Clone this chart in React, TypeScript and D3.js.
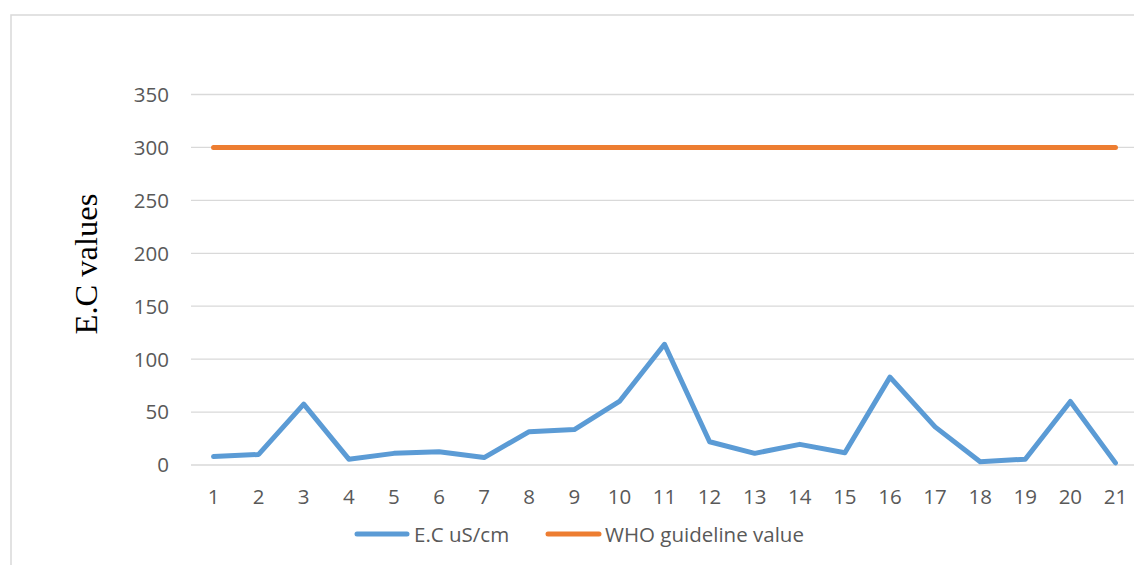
import React from 'react';
import * as d3 from 'd3';

// sample sites 1..21
const sites = ['1', '2', '3', '4', '5', '6', '7', '8', '9', '10', '11', '12', '13', '14', '15', '16', '17', '18', '19', '20', '21'];
const ecValues = [8, 10, 57.5, 5.5, 11, 12.5, 7, 31.5, 33.5, 60, 114, 22, 11, 19.5, 11.5, 83, 36, 3, 5.5, 60, 2];
const whoValues = [300, 300, 300, 300, 300, 300, 300, 300, 300, 300, 300, 300, 300, 300, 300, 300, 300, 300, 300, 300, 300];
const yTicks = [0, 50, 100, 150, 200, 250, 300, 350];

const W = 1134;
const H = 565;
const FONT = '"Open Sans", sans-serif';
const FS = 20.5;
const BLUE = '#5b9bd5';
const ORANGE = '#ed7d31';

export default function App() {
  const x = d3.scaleBand<string>().domain(sites).range([191, 1138]);
  const y = d3.scaleLinear().domain([0, 350]).range([465, 94.5]);
  const cx = (s: string) => (x(s) ?? 0) + x.bandwidth() / 2;

  const line = d3
    .line<number>()
    .x((_, i) => cx(sites[i]))
    .y((d) => y(d));

  return (
    <div style={{ position: 'absolute', left: 0, top: 0 }}>
      <svg width={W} height={H} style={{ display: 'block', background: '#fff' }}>
        {/* chart frame, cut off on right and bottom */}
        <rect x={11} y={15} width={1200} height={600} fill="none" stroke="#d9d9d9" strokeWidth={1.5} />

        {yTicks.map((t) => (
          <g key={t}>
            <line x1={191} x2={1138} y1={y(t)} y2={y(t)} stroke="#d9d9d9" strokeWidth={1.3} />
            <text x={169} y={y(t)} dy="0.36em" textAnchor="end" fontFamily={FONT} fontSize={FS} fill="#595959">
              {t}
            </text>
          </g>
        ))}

        {sites.map((s) => (
          <text key={s} x={cx(s)} y={504} textAnchor="middle" fontFamily={FONT} fontSize={FS} fill="#595959">
            {s}
          </text>
        ))}

        <text
          transform="translate(97,264) rotate(-90)"
          textAnchor="middle"
          fontFamily='"Liberation Serif", "Times New Roman", serif'
          fontSize={32.5}
          fill="#000"
        >
          E.C values
        </text>

        <path d={line(whoValues) || ''} fill="none" stroke={ORANGE} strokeWidth={5} strokeLinejoin="round" strokeLinecap="round" />
        <path d={line(ecValues) || ''} fill="none" stroke={BLUE} strokeWidth={5} strokeLinejoin="round" strokeLinecap="round" />

        {/* legend */}
        <line x1={357} x2={407} y1={534} y2={534} stroke={BLUE} strokeWidth={5} strokeLinecap="round" />
        <text x={414} y={541.5} fontFamily={FONT} fontSize={FS} fill="#595959">
          E.C uS/cm
        </text>
        <line x1={548} x2={599} y1={534} y2={534} stroke={ORANGE} strokeWidth={5} strokeLinecap="round" />
        <text x={605} y={541.5} fontFamily={FONT} fontSize={FS} fill="#595959">
          WHO guideline value
        </text>
      </svg>
    </div>
  );
}
